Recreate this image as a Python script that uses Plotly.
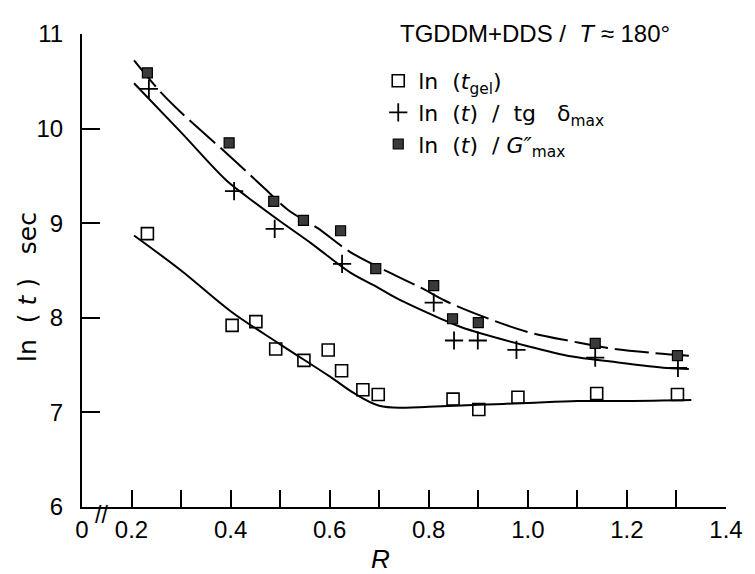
import plotly.graph_objects as go

# ---- data ----
# ln(t_gel)  (open squares)
R_gel = [0.232, 0.403, 0.451, 0.491, 0.548, 0.597, 0.624, 0.667, 0.698, 0.849, 0.901, 0.980, 1.139, 1.302]
ln_gel = [8.89, 7.92, 7.96, 7.67, 7.55, 7.66, 7.44, 7.24, 7.19, 7.14, 7.03, 7.16, 7.20, 7.19]

# ln(t) / tg delta max  (plus)
R_tg = [0.235, 0.407, 0.489, 0.625, 0.810, 0.851, 0.899, 0.977, 1.136, 1.303]
ln_tg = [10.42, 9.34, 8.94, 8.57, 8.16, 7.76, 7.76, 7.66, 7.58, 7.47]

# ln(t) / G'' max  (filled squares)
R_G = [0.232, 0.397, 0.487, 0.547, 0.622, 0.693, 0.810, 0.848, 0.900, 1.136, 1.302]
ln_G = [10.59, 9.85, 9.23, 9.03, 8.92, 8.52, 8.34, 7.99, 7.95, 7.73, 7.60]

# drawn curves
Rc_gel = [0.205, 0.30, 0.40, 0.50, 0.60, 0.65, 0.70, 0.75, 0.80, 0.90, 1.00, 1.10, 1.20, 1.33]
yc_gel = [8.87, 8.50, 8.07, 7.72, 7.38, 7.20, 7.07, 7.05, 7.06, 7.08, 7.10, 7.12, 7.12, 7.13]

Rc_tg = [0.205, 0.30, 0.39, 0.433, 0.50, 0.562, 0.641, 0.694, 0.734, 0.82, 0.866, 1.00, 1.09, 1.164, 1.28, 1.325]
yc_tg = [10.48, 9.96, 9.46, 9.28, 9.02, 8.79, 8.48, 8.33, 8.21, 8.00, 7.90, 7.70, 7.59, 7.54, 7.47, 7.46]

Rc_G = [0.205, 0.258, 0.30, 0.40, 0.466, 0.516, 0.575, 0.64, 0.72, 0.787, 0.833, 0.906, 1.00, 1.09, 1.163, 1.25, 1.325]
yc_G = [10.72, 10.39, 10.17, 9.70, 9.38, 9.14, 8.95, 8.70, 8.48, 8.31, 8.18, 8.02, 7.85, 7.75, 7.68, 7.63, 7.60]

x_tickvals = [0.1, 0.2, 0.3, 0.4, 0.5, 0.6, 0.7, 0.8, 0.9, 1.0, 1.1, 1.2, 1.3, 1.4]
x_ticktext = ["0", "0.2", "", "0.4", "", "0.6", "", "0.8", "", "1.0", "", "1.2", "", "1.4"]
y_tickvals = [6, 7, 8, 9, 10, 11]
y_ticktext = ["6", "7", "8", "9", "10", "11"]

FONT = "Liberation Sans, Arial, sans-serif"
WIDE = "DejaVu Sans, Liberation Sans, sans-serif"
S = "\u00a0"

fig = go.Figure()

# curves
fig.add_trace(go.Scatter(x=Rc_gel, y=yc_gel, mode="lines", showlegend=False,
                         line=dict(color="black", width=2, shape="spline", smoothing=1.0)))
fig.add_trace(go.Scatter(x=Rc_tg, y=yc_tg, mode="lines", showlegend=False,
                         line=dict(color="black", width=2, shape="spline", smoothing=1.0)))
fig.add_trace(go.Scatter(x=Rc_G, y=yc_G, mode="lines", showlegend=False,
                         line=dict(color="black", width=2, shape="spline", smoothing=1.0,
                                   dash="34px,7px")))

# markers
fig.add_trace(go.Scatter(x=R_gel, y=ln_gel, mode="markers",
                         name=f"ln{S}{S}(<i>t</i><sub>gel</sub>)",
                         marker=dict(symbol="square-open", size=12, color="black",
                                     line=dict(width=1.6, color="black"))))
fig.add_trace(go.Scatter(x=R_tg, y=ln_tg, mode="markers",
                         name=f"ln{S}{S}(<i>t</i>){S}{S}/{S}{S}tg{S}{S}{S}δ<sub>max</sub>",
                         marker=dict(symbol="cross-thin-open", size=13, color="black",
                                     line=dict(width=1.8, color="black"))))
fig.add_trace(go.Scatter(x=R_G, y=ln_G, mode="markers",
                         name=f"ln{S}{S}(<i>t</i>){S}{S}/{S}<i>G″</i><sub>max</sub>",
                         marker=dict(symbol="square", size=10, color="#3a3a3a",
                                     line=dict(width=1.2, color="black"))))

fig.update_layout(
    width=747, height=566,
    margin=dict(l=74, r=19, t=15, b=67),
    plot_bgcolor="white", paper_bgcolor="white",
    font=dict(family=FONT, size=22, color="black"),
    showlegend=True,
    legend=dict(x=0.46, y=0.945, xanchor="left", yanchor="top",
                bgcolor="rgba(0,0,0,0)", itemwidth=30,
                font=dict(family=WIDE, size=22, color="black")),
    xaxis=dict(range=[0.1, 1.4], tickvals=x_tickvals, ticktext=x_ticktext,
               ticks="inside", ticklen=17, tickwidth=1.6, tickcolor="black",
               showline=True, linewidth=2, linecolor="black",
               showgrid=False, zeroline=False, ticklabelstandoff=0,
               tickfont=dict(family=FONT, size=24)),
    yaxis=dict(range=[6, 11], tickvals=y_tickvals, ticktext=y_ticktext,
               ticks="inside", ticklen=18, tickwidth=1.6, tickcolor="black",
               showline=True, linewidth=2, linecolor="black",
               showgrid=False, zeroline=False, ticklabelstandoff=12,
               tickfont=dict(family=FONT, size=24)),
)

# axis break mark on the x axis
fig.add_annotation(x=0.14, y=6, xref="x", yref="y", text="//", showarrow=False,
                   xanchor="center", yanchor="middle", yshift=-8,
                   font=dict(family=FONT, size=23, color="black"))

# header
fig.add_annotation(x=0.703, y=1.002, xref="paper", yref="paper",
                   text=f"TGDDM+DDS /{S}{S}<i>T</i> ≈ 180°", showarrow=False,
                   xanchor="center", yanchor="middle",
                   font=dict(family=FONT, size=24, color="black"))

# axis titles
fig.add_annotation(x=-0.0856, y=0.465, xref="paper", yref="paper",
                   text=f"ln{S}{S}({S}<i>t</i>{S}){S}{S}{S}sec", textangle=-90, showarrow=False,
                   xanchor="center", yanchor="middle",
                   font=dict(family=WIDE, size=25, color="black"))
fig.add_annotation(x=0.463, y=-0.11, xref="paper", yref="paper",
                   text="<i>R</i>", showarrow=False,
                   xanchor="center", yanchor="middle",
                   font=dict(family=FONT, size=26, color="black"))

fig.write_html("out.html")
